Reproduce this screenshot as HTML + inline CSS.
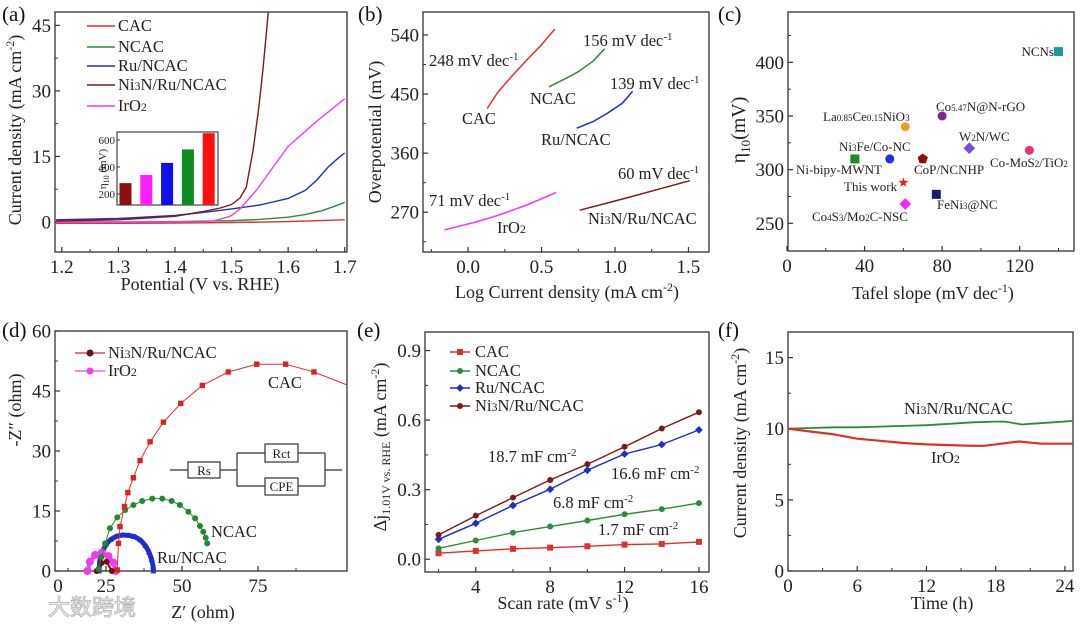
<!DOCTYPE html>
<html><head><meta charset="utf-8">
<style>
body{margin:0;background:#fff}
svg{display:block;font-family:"Liberation Serif","Noto Serif CJK SC",serif}
</style></head>
<body>
<svg id="fig" width="1080" height="627" viewBox="0 0 1080 627">
<defs>
<clipPath id="clipA"><rect x="55" y="12" width="292" height="240"/></clipPath>
<clipPath id="clipD"><rect x="55" y="331" width="292" height="240"/></clipPath>
</defs>
<g font-size="21" fill="#111">
<text x="2" y="21">(a)</text>
<text x="358" y="21">(b)</text>
<text x="718" y="21">(c)</text>
<text x="2" y="337">(d)</text>
<text x="357" y="337">(e)</text>
<text x="718" y="337">(f)</text>
</g>
<g font-size="18" fill="#222">
<text transform="translate(21,130) rotate(-90)" text-anchor="middle">Current density (mA cm<tspan font-size="12" dy="-7">-2</tspan><tspan dy="7">)</tspan></text>
<text x="200" y="290" text-anchor="middle">Potential (V vs. RHE)</text>
<text transform="translate(381,132) rotate(-90)" text-anchor="middle">Overpotential (mV)</text>
<text x="567" y="298" text-anchor="middle">Log Current density (mA cm<tspan font-size="12" dy="-7">-2</tspan><tspan dy="7">)</tspan></text>
<text transform="translate(745,130) rotate(-90)" text-anchor="middle" font-size="20">η<tspan font-size="13" dy="5">10</tspan><tspan dy="-5">(mV)</tspan></text>
<text x="933" y="299" text-anchor="middle">Tafel slope (mV dec<tspan font-size="12" dy="-7">-1</tspan><tspan dy="7">)</tspan></text>
<text transform="translate(21,410) rotate(-90)" text-anchor="middle">-Z″ (ohm)</text>
<text x="203" y="618" text-anchor="middle">Z′ (ohm)</text>
<text transform="translate(386,447) rotate(-90)" text-anchor="middle">Δj<tspan font-size="12" dy="4">1.01V vs. RHE</tspan><tspan dy="-4"> (mA cm</tspan><tspan font-size="12" dy="-7">-2</tspan><tspan dy="7">)</tspan></text>
<text x="563" y="609" text-anchor="middle">Scan rate (mV s<tspan font-size="12" dy="-7">-1</tspan><tspan dy="7">)</tspan></text>
<text transform="translate(746,443) rotate(-90)" text-anchor="middle">Current density (mA cm<tspan font-size="12" dy="-7">-2</tspan><tspan dy="7">)</tspan></text>
<text x="942" y="609" text-anchor="middle">Time (h)</text>
</g>
<!-- legend a -->
<g font-size="16.5" fill="#222">
<line x1="87" y1="26" x2="115" y2="26" stroke="#e0302e" stroke-width="1.5"/>
<text x="118" y="31">CAC</text>
<line x1="87" y1="47" x2="115" y2="47" stroke="#2e8b3a" stroke-width="1.5"/>
<text x="118" y="52">NCAC</text>
<line x1="87" y1="66" x2="115" y2="66" stroke="#1c2fc8" stroke-width="1.5"/>
<text x="118" y="71">Ru/NCAC</text>
<line x1="87" y1="85" x2="115" y2="85" stroke="#7a1a1a" stroke-width="1.5"/>
<text x="118" y="90">Ni<tspan font-size="12">3</tspan>N/Ru/NCAC</text>
<line x1="87" y1="106" x2="115" y2="106" stroke="#f03cf0" stroke-width="1.5"/>
<text x="118" y="111">IrO<tspan font-size="12">2</tspan></text>
</g>
<text transform="translate(106,169) rotate(-90)" text-anchor="middle" font-size="11" fill="#222">η<tspan font-size="8" dy="3">10</tspan><tspan dy="-3"> (mV)</tspan></text>
<!-- b annotations -->
<g font-size="16.5" fill="#222">
<text x="429" y="66">248 mV dec<tspan font-size="11" dy="-6">-1</tspan></text>
<text x="462" y="124">CAC</text>
<text x="583" y="46">156 mV dec<tspan font-size="11" dy="-6">-1</tspan></text>
<text x="530" y="104">NCAC</text>
<text x="610" y="89">139 mV dec<tspan font-size="11" dy="-6">-1</tspan></text>
<text x="541" y="145">Ru/NCAC</text>
<text x="618" y="179">60 mV dec<tspan font-size="11" dy="-6">-1</tspan></text>
<text x="588" y="224">Ni<tspan font-size="12">3</tspan>N/Ru/NCAC</text>
<text x="429" y="206">71 mV dec<tspan font-size="11" dy="-6">-1</tspan></text>
<text x="497" y="233">IrO<tspan font-size="12">2</tspan></text>
</g>
<!-- c labels -->
<g font-size="13" fill="#222">
<text x="1054" y="56" text-anchor="end">NCNs</text>
<text x="823" y="121">La<tspan font-size="9">0.85</tspan>Ce<tspan font-size="9">0.15</tspan>NiO<tspan font-size="9">3</tspan></text>
<text x="936" y="111">Co<tspan font-size="9">5.47</tspan>N@N-rGO</text>
<text x="959" y="141">W<tspan font-size="9">2</tspan>N/WC</text>
<text x="839" y="151">Ni<tspan font-size="9">3</tspan>Fe/Co-NC</text>
<text x="990" y="167">Co-MoS<tspan font-size="9">2</tspan>/TiO<tspan font-size="9">2</tspan></text>
<text x="796" y="174">Ni-bipy-MWNT</text>
<text x="914" y="174">CoP/NCNHP</text>
<text x="844" y="191">This work</text>
<text x="937" y="209">FeNi<tspan font-size="9">3</tspan>@NC</text>
<text x="812" y="221">Co<tspan font-size="9">4</tspan>S<tspan font-size="9">3</tspan>/Mo<tspan font-size="9">2</tspan>C-NSC</text>
</g>
<!-- d legend / labels / circuit -->
<g font-size="16.5" fill="#222">
<text x="268" y="388">CAC</text>
<text x="211" y="537">NCAC</text>
<text x="157" y="563">Ru/NCAC</text>
<line x1="75" y1="353" x2="105" y2="353" stroke="#c0302e" stroke-width="1.3"/>
<circle cx="90" cy="353" r="3.5" fill="#6b1010"/>
<text x="108" y="358">Ni<tspan font-size="12">3</tspan>N/Ru/NCAC</text>
<line x1="75" y1="371" x2="105" y2="371" stroke="#f03cf0" stroke-width="1.3"/>
<circle cx="90" cy="371" r="3.5" fill="#f03cf0"/>
<text x="108" y="376">IrO<tspan font-size="12">2</tspan></text>
</g>
<g stroke="#333" stroke-width="1.2" fill="none">
<line x1="170" y1="470" x2="188" y2="470"/>
<rect x="188" y="462" width="32" height="16" fill="#fff"/>
<line x1="220" y1="470" x2="237" y2="470"/>
<line x1="237" y1="453" x2="237" y2="486"/>
<line x1="237" y1="453" x2="265" y2="453"/><line x1="298" y1="453" x2="325" y2="453"/>
<line x1="237" y1="486" x2="265" y2="486"/><line x1="298" y1="486" x2="325" y2="486"/>
<rect x="265" y="444" width="33" height="18" fill="#fff"/>
<rect x="265" y="478" width="33" height="17" fill="#fff"/>
<line x1="325" y1="453" x2="325" y2="486"/>
<line x1="325" y1="470" x2="342" y2="470"/>
</g>
<g font-size="13" fill="#222">
<text x="204" y="475" text-anchor="middle">Rs</text>
<text x="281.5" y="458" text-anchor="middle">Rct</text>
<text x="281.5" y="491" text-anchor="middle">CPE</text>
</g>
<!-- e legend / labels -->
<g font-size="16.5" fill="#222">
<text x="475" y="357">CAC</text>
<text x="475" y="376">NCAC</text>
<text x="475" y="393">Ru/NCAC</text>
<text x="475" y="411">Ni<tspan font-size="12">3</tspan>N/Ru/NCAC</text>
<text x="488" y="462">18.7 mF cm<tspan font-size="11" dy="-6">-2</tspan></text>
<text x="611" y="479">16.6 mF cm<tspan font-size="11" dy="-6">-2</tspan></text>
<text x="553" y="508">6.8 mF cm<tspan font-size="11" dy="-6">-2</tspan></text>
<text x="598" y="535">1.7 mF cm<tspan font-size="11" dy="-6">-2</tspan></text>
<text x="904" y="414">Ni<tspan font-size="12">3</tspan>N/Ru/NCAC</text>
<text x="931" y="463">IrO<tspan font-size="12">2</tspan></text>
</g>
<text x="48" y="615" font-size="22" fill="#fff" stroke="#bbb" stroke-width="1" font-family="'Noto Sans CJK SC',sans-serif">大数跨境</text>
<g id="marks"></g>
</svg>
<script>
// ---------- data ----------
// (a) LSV
const aCacV=[1.19,1.3,1.4,1.5,1.6,1.65,1.7];
const aCacJ=[-0.3,-0.3,-0.25,-0.1,0.1,0.3,0.5];
const aNcacV=[1.19,1.3,1.4,1.5,1.55,1.6,1.63,1.66,1.68,1.7];
const aNcacJ=[0,0,0.1,0.3,0.6,1.1,1.7,2.6,3.5,4.5];
const aRuV=[1.19,1.3,1.4,1.45,1.5,1.55,1.6,1.63,1.65,1.67,1.69,1.7];
const aRuJ=[0.5,0.8,1.5,2.2,3.0,3.9,5.4,7.2,9.5,12.5,14.8,15.8];
const aNiV=[1.19,1.3,1.4,1.45,1.48,1.5,1.515,1.526,1.538,1.548,1.556,1.565];
const aNiJ=[0.2,0.5,1.3,2.4,3.2,4.0,5.5,8,16.4,26,35.5,48];
const aIrV=[1.19,1.4,1.45,1.47,1.49,1.5,1.515,1.544,1.6,1.65,1.7];
const aIrJ=[0,0,0.05,0.3,1.0,1.5,3.0,7.3,17.3,23,28.2];
const aXTicks=[1.2,1.3,1.4,1.5,1.6,1.7];
const aXLabels=["1.2","1.3","1.4","1.5","1.6","1.7"];
const aYTicks=[0,15,30,45];
const aYLabels=["0","15","30","45"];
// inset bars
const insetCats=["Ni3N/Ru/NCAC","IrO2","Ru/NCAC","NCAC","CAC"];
const insetVals=[280,340,430,530,650];
const insetYTicks=[200,400,600];
const insetYLabels=["200","400","600"];
// (b) Tafel
const bCacX=[0.13,0.2,0.3,0.4,0.5,0.59], bCacY=[428,452,478,502,525,549];
const bNcacX=[0.55,0.65,0.75,0.85,0.93], bNcacY=[461,472,484,500,519];
const bRuX=[0.74,0.85,0.95,1.05,1.12], bRuY=[398,408,421,436,454];
const bIrX=[-0.16,0.05,0.2,0.4,0.6], bIrY=[243,255,265,281,300];
const bNiX=[0.76,1.1,1.51], bNiY=[273,293,318];
const bXTicks=[0,0.5,1.0,1.5], bXLabels=["0.0","0.5","1.0","1.5"];
const bYTicks=[270,360,450,540], bYLabels=["270","360","450","540"];
// (c) comparison
const cNames=["NCNs","La0.85Ce0.15NiO3","Co5.47N@N-rGO","W2N/WC","Co-MoS2/TiO2","Ni-bipy-MWNT","Ni3Fe/Co-NC","CoP/NCNHP","This work","FeNi3@NC","Co4S3/Mo2C-NSC"];
const cTafel=[140,61,80,94,125,35,53,70,60,77,61];
const cEta=[410,340,350,320,318,310,310,310,288,277,268];
const cXTicks=[0,40,80,120], cXLabels=["0","40","80","120"];
const cYTicks=[250,300,350,400], cYLabels=["250","300","350","400"];
// (d) Nyquist
const dCacX=[28.7,29.1,29.6,31.1,32.2,34.0,36.2,39.5,43.9,49.6,56.7,65.2,74.6,84.1,93.4,105.0];
const dCacY=[0.25,6.9,11.1,16.1,19.6,23.3,27.6,32.3,37.2,41.9,46.4,49.75,51.7,51.7,49.75,46.3];
const dNcacX=[22.5,23.5,24.7,26.3,28.7,31.3,34.0,36.9,40.2,43.5,46.6,49.3,52.1,54.3,55.9,57.0,57.8,58.3];
const dNcacY=[0.5,3.5,6.9,10.7,13.4,15.25,16.5,17.5,18.1,18.1,17.5,16.5,14.8,13.2,11.25,9.8,8.3,6.9];
const dRuX=[22.7,23.0,23.8,25.0,26.6,28.5,30.5,32.5,34.4,36.3,37.9,39.1,40.0,40.5,40.6];
const dRuY=[0,2.6,4.8,6.7,7.9,8.7,9.0,8.9,8.6,7.75,6.4,4.8,2.9,1.25,0];
const dIrX=[18.9,19.7,21.4,23.6,25.8,27.4,28.2];
const dIrY=[0,2.3,4.0,4.6,3.75,2.1,0];
const dNiX=[21.9,23.5,25.2,26.9];
const dNiY=[0,2.0,2.3,0];
const dXTicks=[25,50,75], dXLabels=["25","50","75"];
const dYTicks=[0,15,30,45,60], dYLabels=["0","15","30","45","60"];
// (e) Cdl
const eRate=[2,4,6,8,10,12,14,16];
const eCac=[0.026,0.036,0.045,0.050,0.056,0.063,0.066,0.075];
const eNcac=[0.047,0.081,0.115,0.141,0.167,0.194,0.216,0.242];
const eRu=[0.086,0.155,0.232,0.302,0.384,0.454,0.495,0.558];
const eNi=[0.105,0.188,0.266,0.342,0.410,0.485,0.564,0.634];
const eXTicks=[4,8,12,16], eXLabels=["4","8","12","16"];
const eYTicks=[0,0.3,0.6,0.9], eYLabels=["0.0","0.3","0.6","0.9"];
// (f) stability
const fNiT=[0,2,4,6,8,10,12,14,16,18,18.8,20.3,21,23,24.7];
const fNiJ=[10,10.05,10.1,10.1,10.15,10.2,10.25,10.35,10.45,10.5,10.5,10.3,10.35,10.45,10.55];
const fIrT=[0,2,4,6,8,10,12,14,16,17,18.5,20,22,24.7];
const fIrJ=[10,9.8,9.6,9.3,9.15,9.0,8.9,8.85,8.8,8.8,8.95,9.1,8.95,8.95];
const fXTicks=[0,6,12,18,24], fXLabels=["0","6","12","18","24"];
const fYTicks=[0,5,10,15], fYLabels=["0","5","10","15"];

// ---------- helpers ----------
const NS="http://www.w3.org/2000/svg";
const root=document.getElementById('marks');
function mk(tag,attrs,parent){const e=document.createElementNS(NS,tag);for(const k in attrs)e.setAttribute(k,attrs[k]);(parent||root).appendChild(e);return e;}
function lin(d0,d1,p0,p1){return v=>p0+(v-d0)*(p1-p0)/(d1-d0);}
function axes(name,x0,x1,y0,y1,sx,sy,xt,xl,yt,yl,xm,ym,fs){
  const g=mk('g',{});
  
  
  const fr=mk('rect',{x:x0,y:y0,width:x1-x0,height:y1-y0,fill:'none',stroke:'#333','stroke-width':1.3},g);
  
  
  xt.forEach((v,i)=>{const x=sx(v);mk('line',{x1:x,x2:x,y1:y1,y2:y1-5,stroke:'#333','stroke-width':1.2},g);
    const t=mk('text',{x:x,y:y1+21,'text-anchor':'middle','font-size':fs||19,fill:'#222'},g);t.textContent=xl[i];
    
    });
  (xm||[]).forEach(v=>{const x=sx(v);mk('line',{x1:x,x2:x,y1:y1,y2:y1-3,stroke:'#333','stroke-width':1},g);});
  yt.forEach((v,i)=>{const y=sy(v);mk('line',{x1:x0,x2:x0+5,y1:y,y2:y,stroke:'#333','stroke-width':1.2},g);
    const t=mk('text',{x:x0-4,y:y+6.5,'text-anchor':'end','font-size':fs||19,fill:'#222'},g);t.textContent=yl[i];
    
    });
  (ym||[]).forEach(v=>{const y=sy(v);mk('line',{x1:x0,x2:x0+3,y1:y,y2:y,stroke:'#333','stroke-width':1},g);});
}
function pts(xs,ys,sx,sy){return xs.map((v,i)=>sx(v).toFixed(1)+','+sy(ys[i]).toFixed(1)).join(' ');}
function line(xs,ys,sx,sy,color,w,name,clip){const a={points:pts(xs,ys,sx,sy),fill:'none',stroke:color,'stroke-width':w,'stroke-linejoin':'round'};if(clip)a['clip-path']='url(#'+clip+')';const e=mk('polyline',a);
  
  
  return e;}
function marker(shape,x,y,r,color,name){let e;
  if(shape==='sq')e=mk('rect',{x:x-r,y:y-r,width:2*r,height:2*r,fill:color});
  else if(shape==='di')e=mk('polygon',{points:`${x},${y-r*1.3} ${x+r*1.3},${y} ${x},${y+r*1.3} ${x-r*1.3},${y}`,fill:color});
  else if(shape==='tri')e=mk('polygon',{points:`${x},${y-r} ${x+r},${y+r*0.8} ${x-r},${y+r*0.8}`,fill:color});
  else if(shape==='star'){let p=[];for(let k=0;k<10;k++){const rr=k%2?r*0.45:r*1.2,an=-Math.PI/2+k*Math.PI/5;p.push((x+rr*Math.cos(an)).toFixed(1)+','+(y+rr*Math.sin(an)).toFixed(1));}e=mk('polygon',{points:p.join(' '),fill:color});}
  else if(shape==='pent'){let p=[];for(let k=0;k<5;k++){const an=-Math.PI/2+k*2*Math.PI/5;p.push((x+r*1.2*Math.cos(an)).toFixed(1)+','+(y+r*1.2*Math.sin(an)).toFixed(1));}e=mk('polygon',{points:p.join(' '),fill:color});}
  else e=mk('circle',{cx:x,cy:y,r:r,fill:color});
  
  
  return e;}

// ---------- (a) ----------
const axA=lin(1.188,1.704,55,347), ayA=lin(48.05,-6.86,12,252);
axes('a',55,347,12,252,axA,ayA,aXTicks,aXLabels,aYTicks,aYLabels,[1.25,1.35,1.45,1.55,1.65],[7.5,22.5,37.5]);
line(aCacV,aCacJ,axA,ayA,'#e0302e',1.4,'a-line-cac','clipA');
line(aNcacV,aNcacJ,axA,ayA,'#2e8b3a',1.4,'a-line-ncac','clipA');
line(aRuV,aRuJ,axA,ayA,'#1c2fc8',1.4,'a-line-ru-ncac','clipA');
line(aIrV,aIrJ,axA,ayA,'#f03cf0',1.4,'a-line-iro2','clipA');
line(aNiV,aNiJ,axA,ayA,'#7a1a1a',1.4,'a-line-ni3n','clipA');
// inset
const iy=lin(659,118,132,205);
const inset=mk('rect',{x:117,y:132,width:101,height:73,fill:'#fff',stroke:'#333','stroke-width':1.1});


const barColors=['#8b1010','#ff1dff','#1010ee','#128a24','#ff1010'];
insetVals.forEach((v,i)=>{const x=119+i*20.8;const b=mk('rect',{x:x+0.5,y:iy(v),width:12,height:205-iy(v),fill:barColors[i]});
  
  });
insetYTicks.forEach((v,i)=>{mk('line',{x1:117,x2:120,y1:iy(v),y2:iy(v),stroke:'#333'});const t=mk('text',{x:115,y:iy(v)+4,'text-anchor':'end','font-size':11,fill:'#222'});t.textContent=insetYLabels[i];
  
  });

// ---------- (b) ----------
const axB=lin(-0.307,1.64,423,709), ayB=lin(575,209.4,12,252);
axes('b',423,709,12,252,axB,ayB,bXTicks,bXLabels,bYTicks,bYLabels,[-0.25,0.25,0.75,1.25],[225,315,405,495]);
line(bCacX,bCacY,axB,ayB,'#e0302e',1.5,'b-line-cac');
line(bNcacX,bNcacY,axB,ayB,'#2e8b3a',1.5,'b-line-ncac');
line(bRuX,bRuY,axB,ayB,'#1c2fc8',1.5,'b-line-ru-ncac');
line(bIrX,bIrY,axB,ayB,'#f03cf0',1.5,'b-line-iro2');
line(bNiX,bNiY,axB,ayB,'#7a1a1a',1.5,'b-line-ni3n');

// ---------- (c) ----------
const axC=lin(0,148,787,1074), ayC=lin(446.9,224.2,12,251);
axes('c',788,1074,12,251,axC,ayC,cXTicks,cXLabels,cYTicks,cYLabels,[20,60,100,140],[275,325,375,425]);
const cShapes=['sq','ci','ci','di','ci','sq','ci','pent','star','sq','di'];
const cColors=['#1a9a9a','#f39a2c','#7d2a8e','#7a4ae0','#e8307a','#1e8a2a','#1f2fe0','#8b1010','#e02020','#1a1a6e','#ff20ff'];
cNames.forEach((n,i)=>{marker(cShapes[i],axC(cTafel[i]),ayC(cEta[i]),4.5,cColors[i],'c-point-'+n.toLowerCase().replace(/[^a-z0-9]+/g,'-'));});

// ---------- (d) ----------
const axD=v=>30+3.04*v, ayD=lin(60,0,331,571);
axes('d',55,347,331,571,axD,ayD,dXTicks,dXLabels,dYTicks,dYLabels,[12.5,37.5,62.5,87.5],[7.5,22.5,37.5,52.5]);
const d0=mk('text',{x:58,y:592,'text-anchor':'middle','font-size':19,fill:'#222'});d0.textContent='0';


line(dRuX,dRuY,axD,ayD,'#1c2fc8',5,'d-line-ru-ncac','clipD');
dRuX.forEach((v,i)=>marker('tri',axD(v),ayD(dRuY[i]),3,'#1c2fc8','d-point-ru'));
line(dIrX,dIrY,axD,ayD,'#f03cf0',4,'d-line-iro2','clipD');
dIrX.forEach((v,i)=>marker('ci',axD(v),ayD(dIrY[i]),4,'#f03cf0','d-point-iro2'));
line(dNiX,dNiY,axD,ayD,'#6b1010',2,'d-line-ni3n','clipD');
dNiX.forEach((v,i)=>marker('ci',axD(v),ayD(dNiY[i]),3,'#6b1010','d-point-ni3n'));
line(dNcacX,dNcacY,axD,ayD,'#2e8b3a',1,'d-line-ncac','clipD');
dNcacX.forEach((v,i)=>marker('ci',axD(v),ayD(dNcacY[i]),3,'#1e8a2a','d-point-ncac'));
line(dCacX,dCacY,axD,ayD,'#e0302e',1,'d-line-cac','clipD');
dCacX.forEach((v,i)=>{if(axD(v)<349)marker('sq',axD(v),ayD(dCacY[i]),2.7,'#e02020','d-point-cac');});

// ---------- (e) ----------
const axE=lin(1.27,16.54,425,709), ayE=lin(0.98,-0.055,332,572);
axes('e',425,709,332,572,axE,ayE,eXTicks,eXLabels,eYTicks,eYLabels,[2,6,10,14],[0.15,0.45,0.75]);
const eSeries=[[eCac,'#e0302e','sq','cac'],[eNcac,'#2e8b3a','ci','ncac'],[eRu,'#1c2fc8','di','ru-ncac'],[eNi,'#7a1a1a','ci','ni3n']];
const eLegY=[352,371,388,406];
eSeries.forEach((s,k)=>{line(eRate,s[0],axE,ayE,s[1],1.4,'e-line-'+s[3]);
  eRate.forEach((r,i)=>marker(s[2],axE(r),ayE(s[0][i]),3,s[1],'e-point-'+s[3]));
  const l=mk('line',{x1:450,x2:470,y1:eLegY[k],y2:eLegY[k],stroke:s[1],'stroke-width':1.4});
  
  
  marker(s[2],460,eLegY[k],3,s[1],'e-legend-marker-'+s[3]);});

// ---------- (f) ----------
const axF=lin(0,24.7,788,1073), ayF=lin(16.8,0,332,571);
axes('f',788,1073,332,571,axF,ayF,fXTicks,fXLabels,fYTicks,fYLabels,[3,9,15,21],[2.5,7.5,12.5]);
line(fNiT,fNiJ,axF,ayF,'#2e8b3a',1.8,'f-line-ni3n');
line(fIrT,fIrJ,axF,ayF,'#e0302e',2.2,'f-line-iro2');
</script>
</body></html>
